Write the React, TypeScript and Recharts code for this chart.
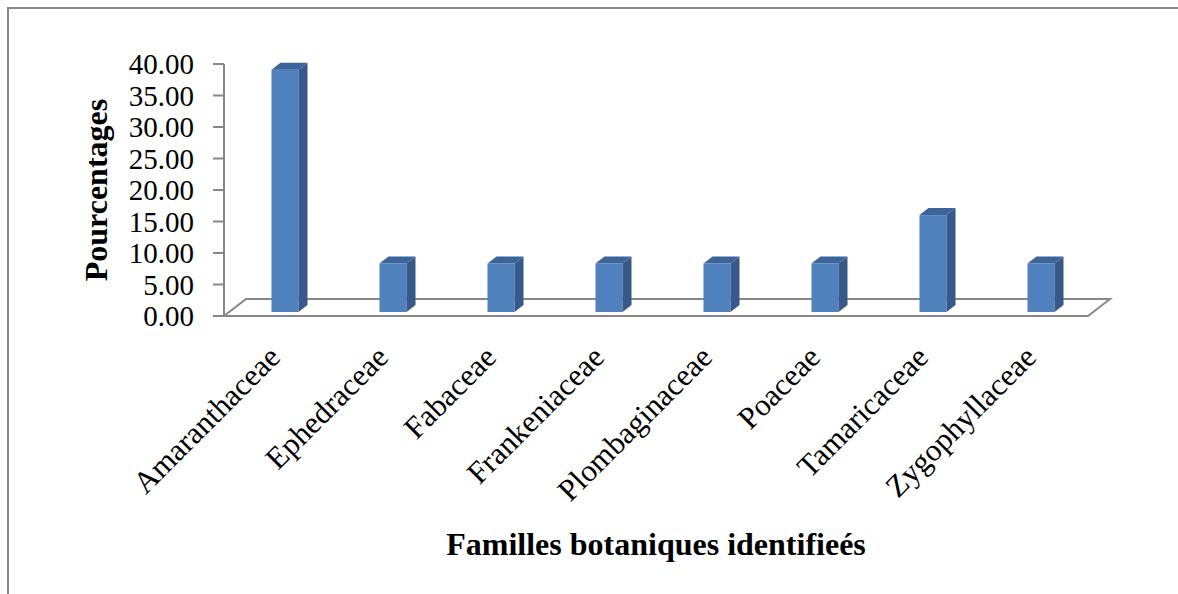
import { BarChart, Bar, XAxis, YAxis, ReferenceArea } from "recharts";

const families = [
  "Amaranthaceae",
  "Ephedraceae",
  "Fabaceae",
  "Frankeniaceae",
  "Plombaginaceae",
  "Poaceae",
  "Tamaricaceae",
  "Zygophyllaceae",
];
const percentages = [38.46, 7.69, 7.69, 7.69, 7.69, 7.69, 15.38, 7.69];
const yTicks = [0, 5, 10, 15, 20, 25, 30, 35, 40];

const chartData = families.map((name, i) => ({ name, value: percentages[i] }));

const FONT = '"Liberation Serif", "Times New Roman", serif';
const GREY = "#878787";

// fake 3d column like the Excel original
function Column3D(props: any) {
  const { x, y, width, height } = props;
  if (height == null || height <= 0) return null;
  const dx = 6.5;
  const dy = -4;
  const d = 9;
  const up = 7;
  const left = x + dx;
  const right = left + width;
  const top = y + dy;
  const base = y + height + dy;
  return (
    <g>
      <rect x={left} y={top} width={width} height={base - top} fill="#4F81BD" />
      <polygon
        points={`${right},${top} ${right + d},${top - up} ${right + d},${base - up} ${right},${base}`}
        fill="#36598A"
      />
      <polygon
        points={`${left},${top} ${left + d},${top - up} ${right + d},${top - up} ${right},${top}`}
        fill="#3C639A"
      />
    </g>
  );
}

function Floor(props: any) {
  const { x, y, width, height } = props;
  const b = y + height;
  const dx = 22;
  const dy = 17;
  return (
    <polygon
      points={`${x},${b} ${x + width},${b} ${x + width + dx},${b - dy} ${x + dx},${b - dy}`}
      fill="none"
      stroke={GREY}
      strokeWidth={2}
    />
  );
}

function FamilyTick({ x, y, payload }: any) {
  const tx = x + 4;
  const ty = y + 41;
  return (
    <text
      x={tx}
      y={ty}
      transform={`rotate(-45, ${tx}, ${ty})`}
      textAnchor="end"
      fontFamily={FONT}
      fontSize={31}
      fill="#000"
    >
      {payload.value}
    </text>
  );
}

export default function App() {
  return (
    <div
      style={{
        position: "absolute",
        left: 7,
        top: 7,
        borderTop: `2px solid ${GREY}`,
        borderLeft: `2px solid ${GREY}`,
        width: 1169,
        height: 585,
        overflow: "hidden",
        background: "#fff",
      }}
    >
      <BarChart
        width={1169}
        height={585}
        data={chartData}
        margin={{ top: 55, right: 90, left: 0, bottom: 0 }}
        barSize={27}
      >
        <ReferenceArea y1={0} y2={40} fill="none" stroke="none" shape={<Floor />} />
        <XAxis
          dataKey="name"
          axisLine={false}
          tickLine={false}
          tickSize={0}
          height={278}
          interval={0}
          tick={<FamilyTick />}
          label={(p: any) => {
            const vb = p.viewBox;
            return (
              <text
                x={vb.x + vb.width / 2}
                y={546}
                textAnchor="middle"
                fontFamily={FONT}
                fontWeight="bold"
                fontSize={32}
                fill="#000"
              >
                Familles botaniques identifieés
              </text>
            );
          }}
        />
        <YAxis
          domain={[0, 40]}
          ticks={yTicks}
          interval={0}
          width={215}
          stroke={GREY}
          axisLine={{ stroke: GREY, strokeWidth: 2 }}
          tickLine={{ stroke: GREY, strokeWidth: 2 }}
          tickSize={11}
          tickMargin={19}
          tick={{ fill: "#000", fontSize: 29, fontFamily: FONT }}
          tickFormatter={(v: number) => v.toFixed(2)}
          label={(p: any) => {
            const vb = p.viewBox;
            const cy = vb.y + vb.height / 2;
            return (
              <text
                x={98}
                y={cy}
                transform={`rotate(-90, 98, ${cy})`}
                textAnchor="middle"
                fontFamily={FONT}
                fontWeight="bold"
                fontSize={32}
                fill="#000"
              >
                Pourcentages
              </text>
            );
          }}
        />
        <Bar dataKey="value" shape={<Column3D />} isAnimationActive={false} />
      </BarChart>
    </div>
  );
}
